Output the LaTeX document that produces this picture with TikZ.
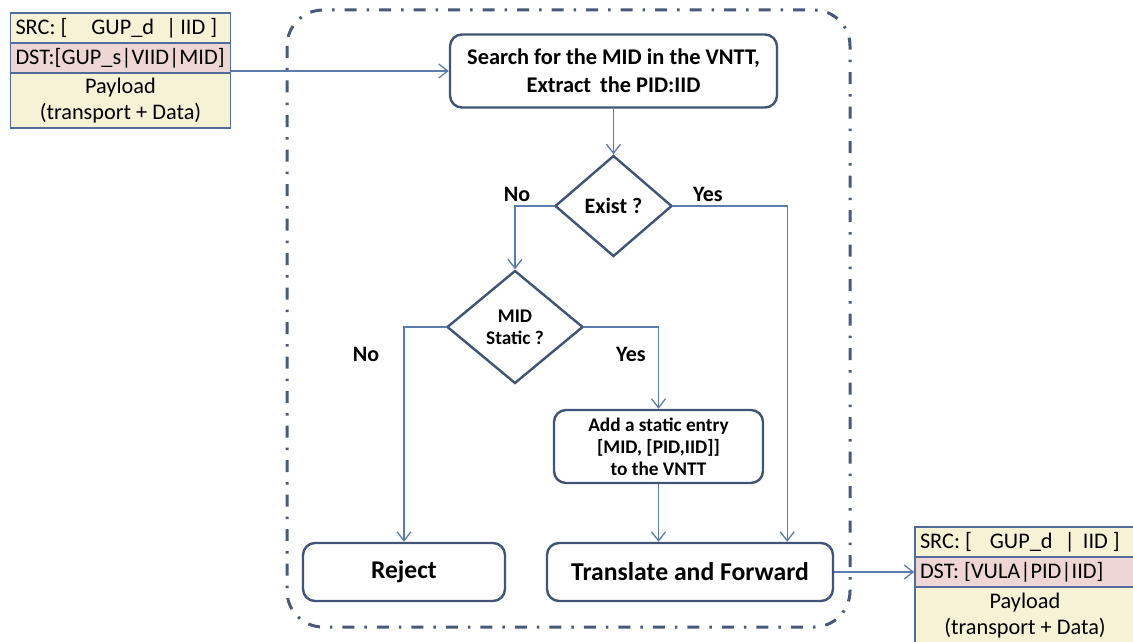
\documentclass[tikz,border=0pt]{standalone}
\usepackage{fontspec}
\setmainfont{Carlito}
\usetikzlibrary{arrows.meta,shapes.geometric,calc}
\definecolor{boxline}{HTML}{3F5476}
\definecolor{conn}{HTML}{5B7DAE}
\definecolor{pkline}{HTML}{4F6C9A}
\definecolor{pkyel}{HTML}{F5F2D5}
\definecolor{pkpink}{HTML}{EDD6D4}
\definecolor{dashc}{HTML}{48597A}
\newcommand{\pkrow}[1]{\makebox[214pt][l]{\hspace{2pt}#1}}
\begin{document}
\begin{tikzpicture}[x=1pt,y=-1pt,
  stepbox/.style={draw=boxline,line width=2.4pt,rounded corners=12pt,fill=white,inner sep=0pt,align=center,font=\bfseries},
  dia/.style={draw=boxline,line width=2.4pt,diamond,inner sep=0pt,fill=white},
  lbl/.style={font=\bfseries\fontsize{19.3}{22}\selectfont,align=center,inner sep=0pt},
  yn/.style={font=\bfseries\fontsize{22}{24}\selectfont,inner sep=0pt},
  arr/.style={draw=conn,line width=1.3pt,-{Straight Barb[length=9pt,width=14pt,line width=1.3pt]}},
  pk/.style={draw=pkline,line width=1.5pt,inner sep=0pt,font=\fontsize{22.3}{26}\selectfont,minimum width=220pt},
]
\useasboundingbox (0,0) rectangle (1133,642);

% outer dash-dot boundary
\draw[dashc,line width=3pt,rounded corners=36pt,dash pattern=on 12pt off 10pt on 2.5pt off 10pt]
  (287,10) rectangle (850,627);

% left packet
\node[pk,fill=pkyel,minimum height=30pt] (lsrc) at (120.5,28) {\pkrow{SRC: [\hspace{24pt}GUP\_d\hspace{12pt}|\hspace{4pt}IID ]}};
\node[pk,fill=pkpink,minimum height=30pt] (ldst) at (120.5,58) {\pkrow{DST:[GUP\_s|VIID|MID]}};
\node[pk,fill=pkyel,minimum height=55pt,align=center] (lpay) at (120.5,100.5) {Payload\\(transport + Data)};

% right packet
\node[pk,fill=pkyel,minimum height=30pt] (rsrc) at (1025,542) {\pkrow{SRC: [\hspace{18pt}GUP\_d\hspace{12pt}|\hspace{8pt}IID ]}};
\node[pk,fill=pkpink,minimum height=30pt] (rdst) at (1025,572) {\pkrow{DST: [VULA|PID|IID]}};
\node[pk,fill=pkyel,minimum height=58pt,align=center] (rpay) at (1025,616) {Payload\\(transport + Data)};

% flow nodes
\node[stepbox,minimum width=327pt,minimum height=73pt,font=\bfseries\fontsize{22.4}{28}\selectfont] (search) at (613.5,71)
  {Search for the MID in the VNTT,\\Extract\, the PID:IID};
\node[dia,minimum width=117pt,minimum height=101pt] (exist) at (613.5,206) {};
\node[lbl,font=\bfseries\fontsize{22}{24}\selectfont] (existt) at (exist) {Exist ?};
\node[dia,minimum width=136pt,minimum height=113pt] (mid) at (515,327) {};
\node[lbl] (midt) at (mid) {MID\\Static ?};
\node[stepbox,minimum width=209pt,minimum height=73pt,font=\bfseries\fontsize{19.3}{22}\selectfont] (add) at (658.5,446.5)
  {Add a static entry\\{}[MID, [PID,IID]]\\to the VNTT};
\node[stepbox,minimum width=202pt,minimum height=58pt,font=\bfseries\fontsize{25.5}{28}\selectfont] (rej) at (404,572) {Reject};
\node[stepbox,minimum width=286pt,minimum height=58pt,font=\bfseries\fontsize{25.7}{28}\selectfont] (tf) at (690,572) {Translate and Forward};

% labels
\node[yn] (no1) at (517,194) {No};
\node[yn] (yes1) at (708,194) {Yes};
\node[yn] (no2) at (366,354) {No};
\node[yn] (yes2) at (631,354) {Yes};

% connectors
\draw[arr] (search.west -| ldst.east) -- (search.west);
\draw[arr] (search.south) -- (exist.north);
\draw[arr] (exist.west) -| (mid.north);
\draw[arr] (exist.east) -| ([xshift=-47pt]tf.north east);
\draw[arr] (mid.west) -| (rej.north);
\draw[arr] (mid.east) -| (add.north);
\draw[arr] (add.south) -- (add.south |- tf.north);
\draw[arr] (tf.east) -- (rdst.west);
\end{tikzpicture}
\end{document}
